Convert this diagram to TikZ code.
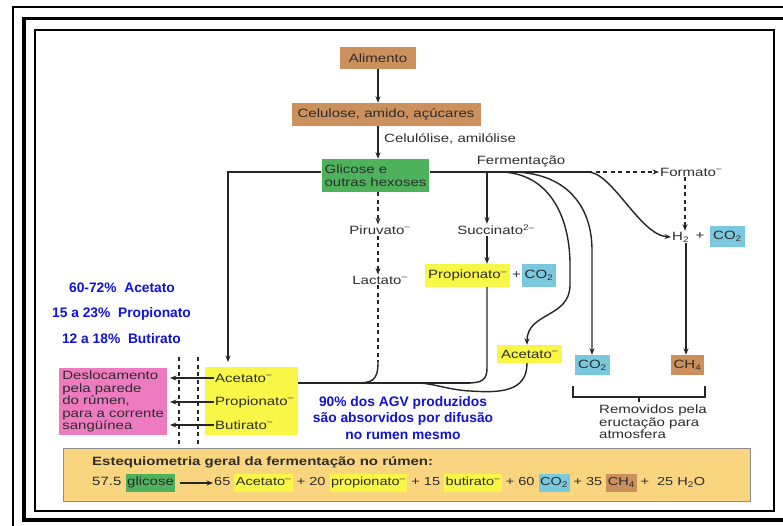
\documentclass[tikz,border=0pt]{standalone}
\usepackage{fontspec}
\setmainfont{Liberation Sans}[FakeStretch=1.25]
\newfontfamily\blueface{Liberation Sans}
\usetikzlibrary{arrows.meta,positioning}

\definecolor{foodbrown}{RGB}{203,144,92}
\definecolor{sugargreen}{RGB}{78,178,92}
\definecolor{acidyellow}{RGB}{248,246,70}
\definecolor{gascyan}{RGB}{122,200,222}
\definecolor{wallpink}{RGB}{238,122,192}
\definecolor{sumorange}{RGB}{250,213,128}
\definecolor{inkgray}{RGB}{45,45,45}
\definecolor{notablue}{RGB}{18,18,215}

\newcommand{\anion}{\textsuperscript{--}}
\newcommand{\hilite}[2]{{\setlength{\fboxsep}{1.6pt}\colorbox{#1}{\rule[-4.5pt]{0pt}{14.5pt}#2}}}

\tikzset{
  wire/.style={line width=1.4pt, draw=black!85},
  arr/.style={wire, -{Stealth[length=6.5pt,width=5pt]}},
  dashline/.style={line width=1.7pt, draw=black!85, dash pattern=on 4pt off 3.5pt},
  txt/.style={font=\fontsize{12}{12.5}\selectfont, text=inkgray, inner sep=1pt},
  tag/.style={txt, inner xsep=3pt, inner ysep=2pt},
  brownbox/.style={tag, fill=foodbrown},
  greenbox/.style={tag, fill=sugargreen},
  yellowbox/.style={tag, fill=acidyellow},
  cyanbox/.style={tag, fill=gascyan},
  pinkbox/.style={tag, fill=wallpink},
  note/.style={font=\blueface\fontsize{13.8}{16.5}\selectfont\bfseries, text=notablue, align=center}
}

\begin{document}
\begin{tikzpicture}[x=1pt,y=-1pt]
    \useasboundingbox (0,0) rectangle (783,526);

    % Frames
    \draw[line width=2pt] (13,526) -- (13,7) -- (783,7);
    \draw[line width=3.5pt] (783,18.5) -- (24,18.5) -- (24,520) -- (783,520);
    \draw[line width=1.8pt] (35,30) rectangle (774,511);

    % Alimento
    \node[brownbox, minimum width=76pt, minimum height=22pt] (alimento) at (378,58) {Alimento};

    % Celulose, amido, acucares
    \node[brownbox, minimum width=189pt, minimum height=23pt] (celulose) at (386,114.5) {Celulose, amido, açúcares};

    % Glicose
    \node[greenbox, minimum width=107pt, minimum height=33pt, align=left] (glicose) at (375.5,175.5) {Glicose e\\outras hexoses};

    \draw[arr] (alimento.south) -- (alimento.south |- celulose.north);
    \draw[arr] (celulose.south -| alimento.south) -- (glicose.north -| alimento.south);
    \node[txt, anchor=west] (celulolise) at (383,139) {Celulólise, amilólise};
    \node[txt] (fermentacao) at (521,161) {Fermentação};

    % Fermentation line and its branch points
    \coordinate (fork) at (588,172);
    \coordinate (sfork) at (487,172);
    \coordinate (acetin) at (228,362);
    \coordinate (absorb) at (282,383);
    \coordinate (merge) at (470,383);
    \draw[wire] ([yshift=3.5pt]glicose.east) -- (fork);
    \draw[arr] ([yshift=3.5pt]glicose.west) -| (acetin);

    % Piruvato and Lactato
    \node[txt] (piruvato) at (380,230) {Piruvato\anion};
    \node[txt] (lactato) at (380,280) {Lactato\anion};
    \draw[arr, dashline] (glicose.south -| 378,0) -- (piruvato.north -| 378,0);
    \draw[arr, dashline] (piruvato.south -| 378,0) -- (lactato.north -| 378,0);
    \draw[dashline] (lactato.south -| 378,0) -- (378,362);
    \draw[wire] (378,362) .. controls (378,381) and (372,383) .. (355,383);

    % Succinato and Propionato
    \node[txt] (succinato) at (496,230) {Succinato\textsuperscript{2--}};
    \node[yellowbox, minimum width=85pt, minimum height=23pt] (propion) at (467.5,275.5) {Propionato\anion};
    \node[txt] (plusa) at (516.5,275.5) {+};
    \node[cyanbox, minimum width=32pt, minimum height=23pt] (co2a) at (539,275.5) {CO\textsubscript{2}};
    \draw[arr] (sfork) -- (succinato.north -| sfork);
    \draw[arr] (succinato.south -| sfork) -- (propion.north -| sfork);
    \draw[wire] (propion.south -| sfork) -- (487,368) .. controls (487,380) and (482,383) .. (467,383);

    % Acetato, CO2
    \node[yellowbox, minimum width=65pt, minimum height=18pt] (acetR) at (529.5,354) {Acetato\anion};
    \node[cyanbox, minimum width=31pt, minimum height=20pt] (co2b) at (592.5,365) {CO\textsubscript{2}};
    \draw[arr] (499,172) .. controls (548,172) and (570,215) .. (570,265) -- (570,285) .. controls (570,318) and (527,312) .. (acetR.north -| 527,0);
    \draw[arr] (511,172) .. controls (565,172) and (592,205) .. (592,250) -- (co2b.north -| 592,0);
    \draw[wire] (acetR.south -| 527,0) .. controls (527,392) and (500,393) .. (470,391) .. controls (450,390) and (435,384) .. (420,383);
    \draw[arr] (merge) -- (absorb);

    % Formato, H2 + CO2, CH4
    \node[txt, anchor=west] (formato) at (659,172) {Formato\anion};
    \node[txt, anchor=west] (htwo) at (671,237) {H\textsubscript{2}};
    \node[txt] (plusb) at (700,236) {+};
    \node[cyanbox, minimum width=31pt, minimum height=21pt] (co2c) at (727.5,236.5) {CO\textsubscript{2}};
    \node[brownbox, minimum width=31pt, minimum height=20pt] (ch4) at (687.5,365) {CH\textsubscript{4}};
    \draw[arr, dashline] (fork) -- (formato.west);
    \draw[arr, dashline] (formato.south -| 685,0) -- (htwo.north -| 685,0);
    \draw[arr] (fork) .. controls (612,172) and (640,235) .. (htwo.west);
    \draw[arr] (htwo.south -| 686,0) -- (ch4.north -| 686,0);

    % Removidos
    \draw[wire] (573,386) -- (573,397) -- (705,397) -- (705,386);
    \draw[wire] (639,397) -- (639,402);
    \node[txt, anchor=north west, align=left] (removidos) at (598,404) {Removidos pela\\eructação para\\atmosfera};

    % AGV in the rumen
    \node[yellowbox, minimum width=93pt, minimum height=68pt] (agv) at (251.5,401) {};
    \node[txt, anchor=west] (acetL) at (214,378) {Acetato\anion};
    \node[txt, anchor=west] (propL) at (214,402) {Propionato\anion};
    \node[txt, anchor=west] (butL) at (214,425) {Butirato\anion};
    \node[pinkbox, minimum width=108pt, minimum height=67pt, align=left, anchor=north west] (rumen) at (59,368) {Deslocamento\\pela parede\\do rúmen,\\para a corrente\\sangüínea};
    \foreach \x in {179,198}
        \draw[dashline] (\x,357) -- (\x,447);
    \foreach \t in {acetL,propL,butL}
        \draw[arr] (\t.west) -- (\t.west -| 170,0);

    % Notes
    \node[note] (pcta) at (122,288) {60-72\%~ Acetato};
    \node[note] (pctb) at (121.5,314) {15 a 23\%~ Propionato};
    \node[note] (pctc) at (121.5,339) {12 a 18\%~ Butirato};
    \node[note] (difusao) at (403,418) {90\% dos AGV produzidos\\são absorvidos por difusão\\no rumen mesmo};

    % Estequiometria
    \node[fill=sumorange, draw=black!45, line width=0.8pt, minimum width=687pt, minimum height=53pt] (estequio) at (406.5,474.5) {};
    \node[txt, font=\fontsize{12}{12.5}\selectfont\bfseries, anchor=west] (eqtitle) at (91,462) {Estequiometria geral da fermentação no rúmen:};
    \node[txt, anchor=west] (eqL) at (91,483) {57.5 \hilite{sugargreen}{glicose}};
    \node[txt, font=\fontsize{11.6}{12.5}\selectfont, anchor=west] (eqR) at (213,483) {65 \hilite{acidyellow}{Acetato\anion} + 20 \hilite{acidyellow}{propionato\anion} + 15 \hilite{acidyellow}{butirato\anion} + 60 \hilite{gascyan}{CO\textsubscript{2}} + 35 \hilite{foodbrown}{CH\textsubscript{4}} +~ 25 H\textsubscript{2}O};
    \draw[arr] ([xshift=3pt]eqL.east) -- (eqR.west);

\end{tikzpicture}
\end{document}
